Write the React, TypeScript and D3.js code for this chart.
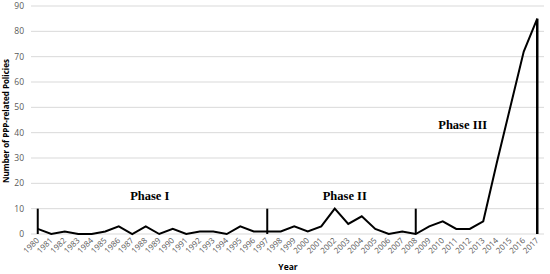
import React from 'react';
import * as d3 from 'd3';

const years: string[] = [];
for (let y = 1980; y <= 2017; y++) years.push(String(y));

const policies = [2, 0, 1, 0, 0, 1, 3, 0, 3, 0, 2, 0, 1, 1, 0, 3, 1, 1, 1, 3, 1, 3, 10, 4, 7, 2, 0, 1, 0, 3, 5, 2, 2, 5, 28, 50, 72, 85];

const yTicks = [0, 10, 20, 30, 40, 50, 60, 70, 80, 90];

// phase separators: year and height
const dividerYears = ['1980', '1997', '2008', '2017'];
const dividerTops = [10, 10, 10, 85];

const phaseLabels = ['Phase I', 'Phase II', 'Phase III'];
const phaseYears = ['1988', '2002', '2012'];
const phaseValues = [13.3, 13.3, 41.4];

const App = () => {
  const width = 550;
  const height = 274;
  const left = 31;
  const right = 544;
  const top = 6;
  const bottom = 234;

  const x = d3.scaleBand().domain(years).range([left, right]);
  const cx = (d: string) => (x(d) as number) + x.bandwidth() / 2;
  const y = d3.scaleLinear().domain([0, 90]).range([bottom, top]);

  const line = d3.line<number>()
    .x((d, i) => cx(years[i]))
    .y(d => y(d));

  const labelOffsets = [4, 10, -7];

  return (
    <svg width={width} height={height} style={{ position: 'absolute', left: 0, top: 0 }}>
      <g>
        {yTicks.map(t => (
          <g key={t}>
            <line x1={left} x2={right} y1={y(t)} y2={y(t)} stroke="#d9d9d9" strokeWidth={1} />
            <text x={24} y={y(t)} dy="0.35em" textAnchor="end" fontSize={8.5}
              fontFamily="'Open Sans', sans-serif" fill="#595959">{t}</text>
          </g>
        ))}
      </g>
      <g>
        {years.map(yr => (
          <text key={yr} transform={`translate(${cx(yr) + 2},${bottom + 7}) rotate(-45)`}
            textAnchor="end" fontSize={8} fontFamily="'Open Sans', sans-serif" fill="#595959">{yr}</text>
        ))}
      </g>
      <path d={line(policies) || ''} fill="none" stroke="#000" strokeWidth={2} strokeLinejoin="miter" />
      {dividerYears.map((yr, i) => (
        <line key={yr} x1={cx(yr)} x2={cx(yr)} y1={y(0)} y2={y(dividerTops[i])}
          stroke="#000" strokeWidth={i === 3 ? 2.5 : 2} />
      ))}
      {phaseLabels.map((p, i) => (
        <text key={p} x={cx(phaseYears[i]) + labelOffsets[i]} y={y(phaseValues[i])} textAnchor="middle"
          fontSize={12.5} fontWeight="bold" fontFamily="'Liberation Serif', serif" fill="#000">{p}</text>
      ))}
      <text transform={`translate(9,${(top + bottom) / 2 + 1}) rotate(-90)`} textAnchor="middle"
        fontSize={8} fontWeight="bold" fontFamily="'Open Sans', sans-serif" fill="#000">Number of PPP-related Policies</text>
      <text x={288} y={270} textAnchor="middle" fontSize={8.5} fontWeight="bold"
        fontFamily="'Open Sans', sans-serif" fill="#000">Year</text>
    </svg>
  );
};

export default App;
